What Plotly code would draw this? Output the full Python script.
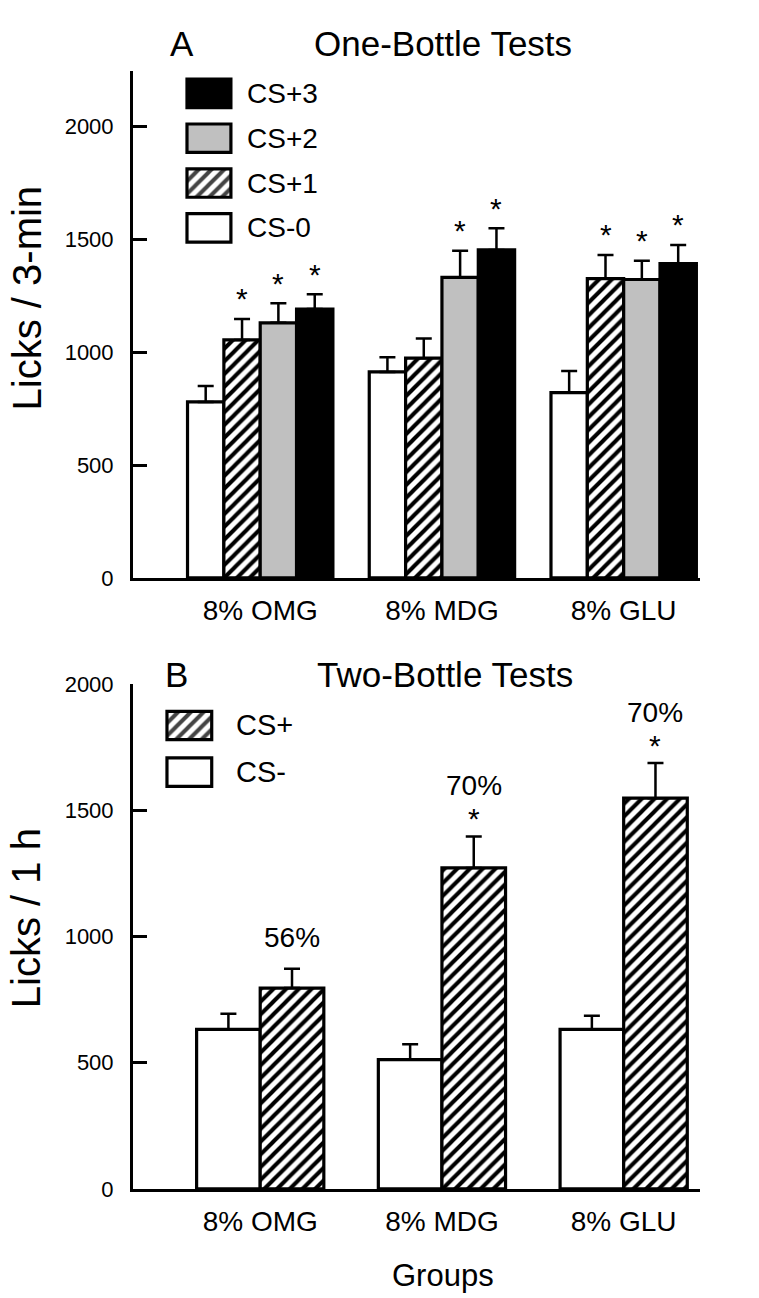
import plotly.graph_objects as go

W, H = 759, 1298
FONT = "Liberation Sans, Arial, Helvetica, sans-serif"

groups = ["8% OMG", "8% MDG", "8% GLU"]

# Panel A: one-bottle tests, licks / 3 min (mean and SEM)
cs0_mean = [780, 913, 821]
cs0_sem = [71, 65, 96]
cs1_mean = [1055, 974, 1327]
cs1_sem = [93, 87, 105]
cs2_mean = [1131, 1332, 1323]
cs2_sem = [87, 118, 83]
cs3_mean = [1192, 1454, 1393]
cs3_sem = [66, 96, 83]
cs0_sig = [False, False, False]
cs1_sig = [True, False, True]
cs2_sig = [True, True, True]
cs3_sig = [True, True, True]

# Panel B: two-bottle tests, licks / 1 h (mean and SEM)
csm_mean = [632, 512, 632]
csm_sem = [62, 61, 54]
csp_mean = [795, 1271, 1547]
csp_sem = [77, 124, 139]
csp_pref = ["56%", "70%", "70%"]
csp_sig = [False, True, True]

GRAY = "#c0c0c0"
HATCH = dict(fgcolor="black", fgopacity=1, size=9, solidity=0.45,
             fillmode="overlay")


def px_x(p):
    return p / W


def px_y(p):
    return 1 - p / H


def bar_trace(means, sems, color, hatch, offset, width, xa, ya):
    return go.Bar(
        x=groups, y=means, offset=offset, width=width,
        xaxis=xa, yaxis=ya,
        marker=dict(color=color, line=dict(color="black", width=3.2),
                    pattern=dict(shape=hatch, **HATCH)),
        error_y=dict(type="data", symmetric=False, array=sems,
                     arrayminus=[0] * len(sems), color="black",
                     thickness=2.5, width=8),
        showlegend=False, hoverinfo="skip",
    )


fig = go.Figure()
annotations = []

# ---- Panel A bars ----
one_w = 0.2
one_series = [
    ("CS-0", cs0_mean, cs0_sem, cs0_sig, "white", ""),
    ("CS+1", cs1_mean, cs1_sem, cs1_sig, "white", "/"),
    ("CS+2", cs2_mean, cs2_sem, cs2_sig, GRAY, ""),
    ("CS+3", cs3_mean, cs3_sem, cs3_sig, "black", ""),
]
for k, (name, m, s, sig, col, hatch) in enumerate(one_series):
    off = -0.4 + one_w * k
    fig.add_trace(bar_trace(m, s, col, hatch, off, one_w, "x", "y"))
    for i in range(len(groups)):
        if sig[i]:
            annotations.append(dict(
                x=i + off + one_w / 2, y=m[i] + s[i], xref="x", yref="y",
                text="*", showarrow=False, yanchor="middle", yshift=20,
                font=dict(size=30)))

# ---- Panel B bars ----
two_w = 0.35
fig.add_trace(bar_trace(csm_mean, csm_sem, "white", "", -two_w, two_w, "x2", "y2"))
fig.add_trace(bar_trace(csp_mean, csp_sem, "white", "/", 0, two_w, "x2", "y2"))
for i in range(len(groups)):
    xc = i + two_w / 2
    top = csp_mean[i] + csp_sem[i]
    if csp_sig[i]:
        annotations.append(dict(x=xc, y=top, xref="x2", yref="y2", text="*",
                                showarrow=False, yanchor="middle", yshift=18,
                                font=dict(size=30)))
    annotations.append(dict(x=xc, y=top, xref="x2", yref="y2", text=csp_pref[i],
                            showarrow=False, yanchor="middle",
                            yshift=51 if csp_sig[i] else 31,
                            font=dict(size=28)))

# ---- Legend swatches (drawn as bars on small hidden axes) ----
leg_a_names = ["CS+3", "CS+2", "CS+1", "CS-0"]
leg_a_colors = ["black", GRAY, "white", "white"]
leg_a_hatch = ["", "", "/", ""]
leg_a_pos = [3, 2, 1, 0]
fig.add_trace(go.Bar(
    x=[1] * 4, y=leg_a_pos, orientation="h", width=0.635,
    xaxis="x3", yaxis="y3",
    marker=dict(color=leg_a_colors, line=dict(color="black", width=3.2),
                pattern=dict(shape=leg_a_hatch, **HATCH)),
    showlegend=False, hoverinfo="skip"))
for nm, p in zip(leg_a_names, leg_a_pos):
    annotations.append(dict(x=px_x(245), y=p, xref="paper", yref="y3", text=nm,
                            showarrow=False, xanchor="left", yanchor="middle",
                            font=dict(size=28)))

leg_b_names = ["CS+", "CS-"]
leg_b_colors = ["white", "white"]
leg_b_hatch = ["/", ""]
leg_b_pos = [1, 0]
fig.add_trace(go.Bar(
    x=[1] * 2, y=leg_b_pos, orientation="h", width=0.61,
    xaxis="x4", yaxis="y4",
    marker=dict(color=leg_b_colors, line=dict(color="black", width=3.2),
                pattern=dict(shape=leg_b_hatch, **HATCH)),
    showlegend=False, hoverinfo="skip"))
for nm, p in zip(leg_b_names, leg_b_pos):
    annotations.append(dict(x=px_x(234), y=p, xref="paper", yref="y4", text=nm,
                            showarrow=False, xanchor="left", yanchor="middle",
                            font=dict(size=29)))


# ---- Titles ----
def paper_text(text, x, y, size, angle=0):
    annotations.append(dict(x=px_x(x), y=px_y(y), xref="paper", yref="paper",
                            text=text, showarrow=False, textangle=angle,
                            xanchor="center", yanchor="middle",
                            font=dict(size=size)))


paper_text("A", 182, 32, 35)
paper_text("One-Bottle Tests", 443, 32, 35)
paper_text("B", 176, 676, 35)
paper_text("Two-Bottle Tests", 445, 676, 35)
paper_text("Licks / 3-min", 27, 292, 40, -90)
paper_text("Licks / 1 h", 26, 924, 40, -90)
paper_text("Groups", 443, 1288, 31)

x_dom = [px_x(133), px_x(700)]
x_rng = [-0.70, 2.42]
xcommon = dict(domain=x_dom, range=x_rng, showline=True, linewidth=3,
               linecolor="black", ticks="", showgrid=False, zeroline=False,
               tickfont=dict(size=28), ticklabelstandoff=6, fixedrange=True)
ycommon = dict(showline=True, linewidth=3, linecolor="black", ticks="inside",
               ticklen=14, tickwidth=3, tickcolor="black",
               tickvals=[0, 500, 1000, 1500, 2000], showgrid=False,
               zeroline=False, tickfont=dict(size=22), ticklabelstandoff=12,
               fixedrange=True)

fig.update_layout(
    width=W, height=H, margin=dict(l=0, r=0, t=0, b=0),
    paper_bgcolor="white", plot_bgcolor="white", barmode="overlay",
    font=dict(family=FONT, color="black"),
    xaxis=dict(anchor="y", **xcommon),
    yaxis=dict(anchor="x", domain=[px_y(577), px_y(60)], range=[0, 2248], **ycommon),
    xaxis2=dict(anchor="y2", **xcommon),
    yaxis2=dict(anchor="x2", domain=[px_y(1200), px_y(685)], range=[0, 2000], **ycommon),
    xaxis3=dict(anchor="y3", domain=[px_x(182.6), px_x(235.3)], range=[-0.1, 1.1],
                visible=False, fixedrange=True),
    yaxis3=dict(anchor="x3", domain=[px_y(242.9), px_y(60.2)], range=[-0.5, 3.5],
                visible=False, fixedrange=True),
    xaxis4=dict(anchor="y4", domain=[px_x(162.5), px_x(216.2)], range=[-0.1, 1.1],
                visible=False, fixedrange=True),
    yaxis4=dict(anchor="x4", domain=[px_y(798.75), px_y(703.75)], range=[-0.5, 1.5],
                visible=False, fixedrange=True),
    annotations=annotations,
    showlegend=False,
)

fig.write_html("out.html", config={"displayModeBar": False})
